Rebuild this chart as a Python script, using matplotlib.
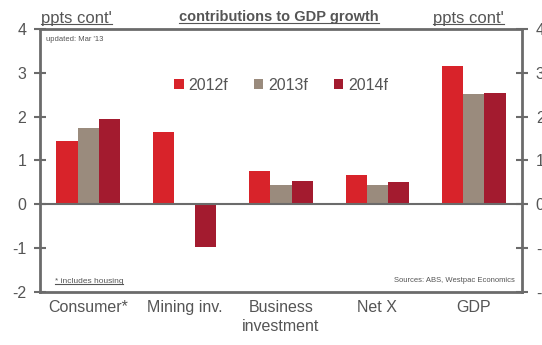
import numpy as np
import matplotlib
matplotlib.use('Agg')
import matplotlib.pyplot as plt
from matplotlib.lines import Line2D

categories = ['Consumer*', 'Mining inv.', 'Business\ninvestment', 'Net X', 'GDP']
series_names = ['2012f', '2013f', '2014f']
v2012 = [1.44, 1.64, 0.75, 0.66, 3.15]
v2013 = [1.73, 0.0, 0.43, 0.43, 2.51]
v2014 = [1.94, -0.98, 0.52, 0.50, 2.54]
yticks = [-2, -1, 0, 1, 2, 3, 4]

colors = ['#d8232a', '#9a8b7d', '#a31b2f']
grey = '#555555'
spine_col = '#6b6b6b'

plt.rcParams['font.family'] = ['Liberation Sans', 'DejaVu Sans']

fig = plt.figure(figsize=(5.42, 3.45), dpi=100)
ax = fig.add_axes([0.074, 0.154, 0.889, 0.762])

x = np.arange(len(categories))
w = 0.22
for i, (vals, name) in enumerate(zip([v2012, v2013, v2014], series_names)):
    ax.bar(x + (i - 1) * w, vals, w, color=colors[i], label=name, zorder=2)

ax.axhline(0, color=spine_col, lw=1.5, zorder=3)
ax.set_xlim(-0.5, len(categories) - 0.5)
ax.set_ylim(-2, 4)
ax.set_yticks(yticks)
ax.set_yticklabels([str(t) for t in yticks])
ax.set_xticks(x)
ax.set_xticklabels(categories, fontsize=11.5, color=grey, linespacing=1.3)
ax.tick_params(axis='x', length=0, pad=6)
ax.tick_params(axis='y', direction='inout', length=8, width=1.5, colors=spine_col,
               labelcolor=grey, labelsize=11.5, pad=6)
for s in ax.spines.values():
    s.set_color(spine_col)
    s.set_linewidth(2)

# right axis (labels run off the edge as in the original)
ax2 = ax.twinx()
ax2.set_ylim(-2, 4)
ax2.set_yticks(yticks)
ax2.set_yticklabels([str(t) for t in yticks])
ax2.tick_params(axis='y', direction='inout', length=8, width=1.5, colors=spine_col,
                labelcolor=grey, labelsize=11.5, pad=6)
for s in ax2.spines.values():
    s.set_visible(False)

leg = ax.legend(loc='upper center', bbox_to_anchor=(0.5, 0.87), ncol=3, frameon=False,
                fontsize=11.5, handlelength=0.6, handleheight=0.6, handletextpad=0.3,
                columnspacing=1.6)
for t in leg.get_texts():
    t.set_color(grey)

ax.text(0.012, 0.975, "updated: Mar '13", transform=ax.transAxes, fontsize=5.5,
        color=grey, va='top', ha='left')
ax.text(0.985, 0.03, 'Sources: ABS, Westpac Economics', transform=ax.transAxes,
        fontsize=5.5, color=grey, va='bottom', ha='right')

under = []
under.append(fig.text(0.076, 0.925, "ppts cont'", fontsize=12, color=grey, ha='left', va='bottom'))
under.append(fig.text(0.93, 0.925, "ppts cont'", fontsize=12, color=grey, ha='right', va='bottom'))
under.append(fig.text(0.515, 0.93, 'contributions to GDP growth', fontsize=10.5, color=grey,
                      ha='center', va='bottom', fontweight='bold'))
under.append(ax.text(0.03, 0.025, '* includes housing', transform=ax.transAxes, fontsize=6,
                     color=grey, va='bottom', ha='left'))

# underline the texts
fig.canvas.draw()
r = fig.canvas.get_renderer()
inv = fig.transFigure.inverted()
for t in under:
    bb = t.get_window_extent(renderer=r)
    (x0, y0), (x1, _) = inv.transform([[bb.x0, bb.y0], [bb.x1, bb.y1]])
    fig.add_artist(Line2D([x0, x1], [y0 + 0.004, y0 + 0.004], transform=fig.transFigure,
                          color=grey, lw=0.8))

fig.savefig('out.png', dpi=100)
